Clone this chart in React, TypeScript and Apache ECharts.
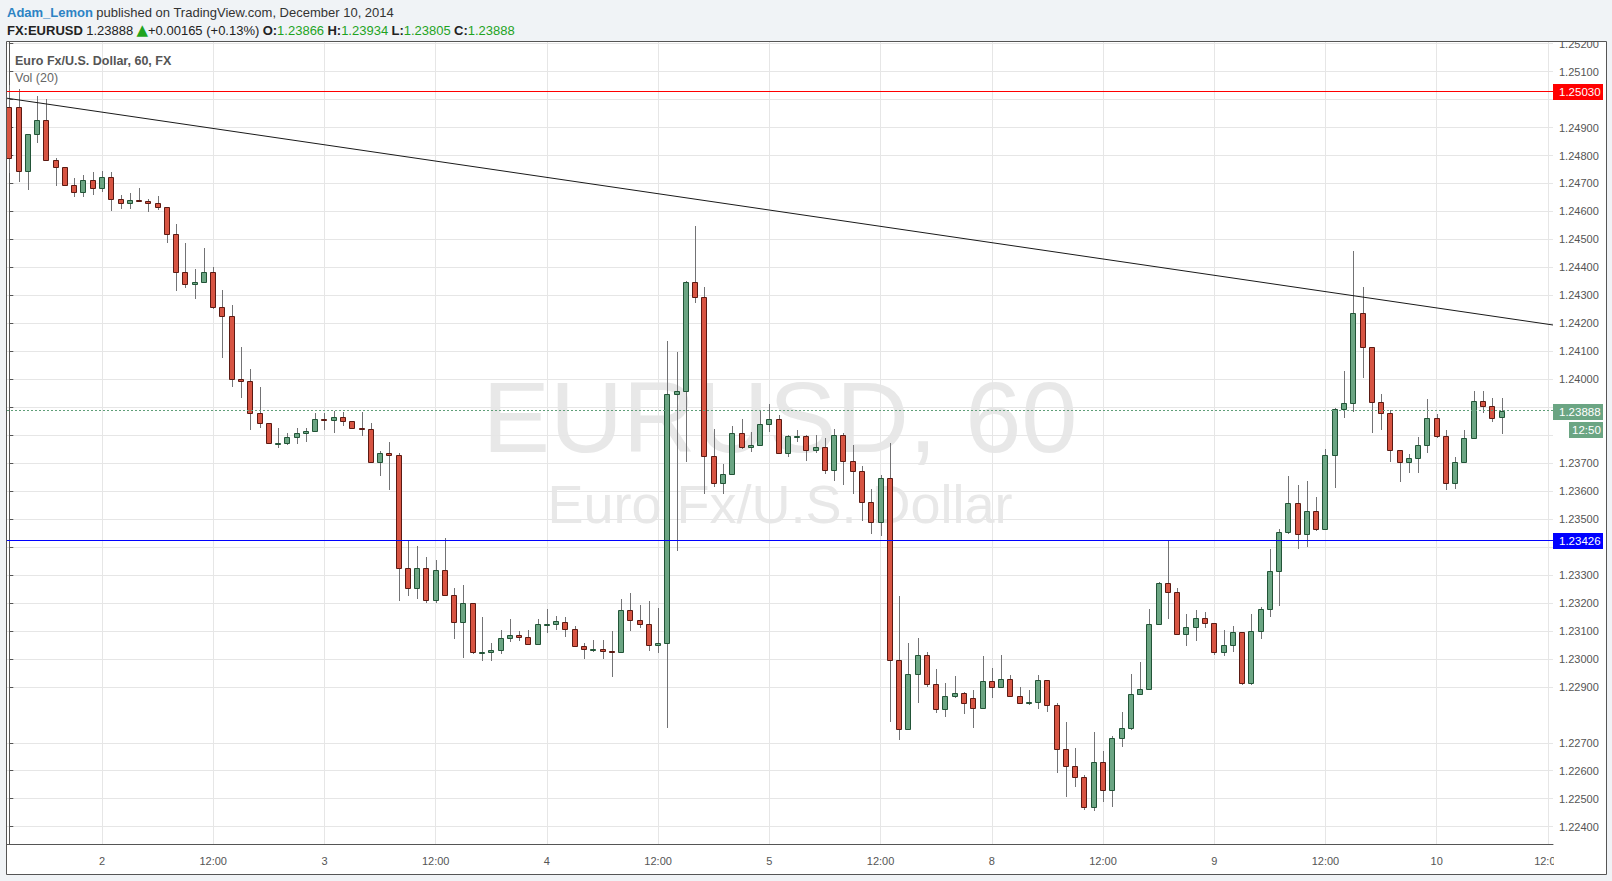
import React, { useEffect, useRef } from 'react';
import * as echarts from 'echarts';

// ---- Data (EUR/USD, 60 min bars, Dec 1 14:00 -> Dec 10 07:00, 2014) ----
const opens = [
  1.24973, 1.24973, 1.24743, 1.24876, 1.24926, 1.24784, 1.24758, 1.24696, 1.24669, 1.24712,
  1.24683, 1.24722, 1.24644, 1.24632, 1.24640, 1.24636, 1.24629, 1.24615, 1.24518, 1.24385,
  1.24340, 1.24347, 1.24383, 1.24257, 1.24225, 1.24000, 1.23995, 1.23881, 1.23843, 1.23771,
  1.23771, 1.23793, 1.23807, 1.23815, 1.23857, 1.23853, 1.23864, 1.23849, 1.23827, 1.23821,
  1.23705, 1.23735, 1.23728, 1.23324, 1.23252, 1.23324, 1.23209, 1.23317, 1.23227, 1.23133,
  1.23199, 1.23024, 1.23026, 1.23031, 1.23074, 1.23084, 1.23079, 1.23052, 1.23124, 1.23126,
  1.23133, 1.23106, 1.23046, 1.23034, 1.23037, 1.23027, 1.23025, 1.23174, 1.23138, 1.23126,
  1.23049, 1.23056, 1.23946, 1.23957, 1.24347, 1.24293, 1.23725, 1.23628, 1.23660, 1.23807,
  1.23757, 1.23764, 1.23839, 1.23857, 1.23735, 1.23796, 1.23798, 1.23746, 1.23757, 1.23674,
  1.23800, 1.23707, 1.23671, 1.23560, 1.23488, 1.23646, 1.22995, 1.22748, 1.22945, 1.23013,
  1.22909, 1.22820, 1.22866, 1.22877, 1.22859, 1.22823, 1.22920, 1.22898, 1.22927, 1.22866,
  1.22841, 1.22845, 1.22923, 1.22834, 1.22677, 1.22616, 1.22576, 1.22469, 1.22630, 1.22530,
  1.22716, 1.22752, 1.22873, 1.22891, 1.23124, 1.23270, 1.23238, 1.23088, 1.23113, 1.23145,
  1.23127, 1.23023, 1.23049, 1.23095, 1.22912, 1.23099, 1.23177, 1.23313, 1.23453, 1.23556,
  1.23446, 1.23528, 1.23463, 1.23728, 1.23893, 1.23914, 1.24236, 1.24115, 1.23918, 1.23878,
  1.23746, 1.23703, 1.23717, 1.23764, 1.23860, 1.23798, 1.23628, 1.23703, 1.23789, 1.23921,
  1.23903, 1.23866,
];
const highs = [
  1.25052, 1.25037, 1.24876, 1.25013, 1.25001, 1.24790, 1.24758, 1.24719, 1.24731, 1.24740,
  1.24743, 1.24740, 1.24659, 1.24665, 1.24683, 1.24644, 1.24656, 1.24615, 1.24555, 1.24486,
  1.24393, 1.24468, 1.24403, 1.24319, 1.24266, 1.24117, 1.24036, 1.23974, 1.23843, 1.23827,
  1.23807, 1.23825, 1.23825, 1.23878, 1.23881, 1.23888, 1.23884, 1.23850, 1.23884, 1.23843,
  1.23743, 1.23775, 1.23735, 1.23425, 1.23404, 1.23364, 1.23354, 1.23432, 1.23252, 1.23264,
  1.23199, 1.23149, 1.23056, 1.23103, 1.23143, 1.23100, 1.23103, 1.23143, 1.23177, 1.23153,
  1.23149, 1.23118, 1.23056, 1.23067, 1.23067, 1.23100, 1.23214, 1.23235, 1.23193, 1.23208,
  1.23183, 1.24137, 1.24098, 1.24352, 1.24548, 1.24329, 1.23822, 1.23697, 1.23833, 1.23858,
  1.23811, 1.23890, 1.23912, 1.23872, 1.23801, 1.23819, 1.23801, 1.23801, 1.23789, 1.23821,
  1.23807, 1.23764, 1.23690, 1.23608, 1.23658, 1.23773, 1.23225, 1.23057, 1.23076, 1.23026,
  1.22965, 1.22915, 1.22939, 1.22881, 1.22889, 1.23010, 1.22967, 1.23014, 1.22942, 1.22898,
  1.22889, 1.22942, 1.22925, 1.22841, 1.22774, 1.22681, 1.22584, 1.22740, 1.22672, 1.22724,
  1.22811, 1.22946, 1.22989, 1.23178, 1.23276, 1.23425, 1.23252, 1.23160, 1.23175, 1.23168,
  1.23130, 1.23103, 1.23118, 1.23095, 1.23160, 1.23187, 1.23393, 1.23465, 1.23654, 1.23622,
  1.23637, 1.23580, 1.23751, 1.23898, 1.24030, 1.24459, 1.24330, 1.24115, 1.23947, 1.23890,
  1.23746, 1.23733, 1.23792, 1.23928, 1.23876, 1.23819, 1.23722, 1.23819, 1.23958, 1.23958,
  1.23932, 1.23934,
];
const lows = [
  1.24737, 1.24707, 1.24675, 1.24844, 1.24784, 1.24691, 1.24694, 1.24653, 1.24653, 1.24660,
  1.24671, 1.24603, 1.24608, 1.24610, 1.24634, 1.24599, 1.24605, 1.24486, 1.24317, 1.24325,
  1.24286, 1.24347, 1.24251, 1.24077, 1.23974, 1.23934, 1.23819, 1.23827, 1.23771, 1.23753,
  1.23765, 1.23767, 1.23777, 1.23813, 1.23819, 1.23809, 1.23833, 1.23825, 1.23797, 1.23699,
  1.23655, 1.23604, 1.23208, 1.23226, 1.23213, 1.23199, 1.23199, 1.23227, 1.23072, 1.23004,
  1.23016, 1.22993, 1.22993, 1.23016, 1.23059, 1.23065, 1.23052, 1.23052, 1.23094, 1.23103,
  1.23079, 1.23041, 1.22998, 1.23026, 1.23001, 1.22936, 1.23025, 1.23101, 1.23112, 1.23029,
  1.23020, 1.22752, 1.23387, 1.23705, 1.24274, 1.23591, 1.23614, 1.23589, 1.23660, 1.23750,
  1.23741, 1.23764, 1.23812, 1.23735, 1.23721, 1.23777, 1.23709, 1.23737, 1.23662, 1.23637,
  1.23622, 1.23591, 1.23494, 1.23447, 1.23441, 1.22775, 1.22710, 1.22748, 1.22841, 1.22900,
  1.22808, 1.22793, 1.22859, 1.22803, 1.22754, 1.22823, 1.22861, 1.22898, 1.22866, 1.22841,
  1.22834, 1.22821, 1.22811, 1.22593, 1.22507, 1.22541, 1.22459, 1.22455, 1.22489, 1.22471,
  1.22686, 1.22746, 1.22873, 1.22891, 1.23124, 1.23143, 1.23088, 1.23047, 1.23065, 1.23112,
  1.23014, 1.23010, 1.23023, 1.22905, 1.22905, 1.23070, 1.23151, 1.23190, 1.23446, 1.23392,
  1.23400, 1.23457, 1.23463, 1.23610, 1.23863, 1.23882, 1.24003, 1.23807, 1.23819, 1.23705,
  1.23634, 1.23666, 1.23666, 1.23737, 1.23791, 1.23604, 1.23609, 1.23703, 1.23789, 1.23881,
  1.23848, 1.23805,
];
const closes = [
  1.24790, 1.24743, 1.24876, 1.24926, 1.24784, 1.24758, 1.24696, 1.24669, 1.24712, 1.24683,
  1.24722, 1.24644, 1.24632, 1.24640, 1.24636, 1.24629, 1.24615, 1.24518, 1.24385, 1.24340,
  1.24347, 1.24383, 1.24257, 1.24225, 1.24000, 1.23995, 1.23881, 1.23843, 1.23771, 1.23773,
  1.23793, 1.23807, 1.23815, 1.23857, 1.23853, 1.23864, 1.23849, 1.23827, 1.23821, 1.23705,
  1.23735, 1.23728, 1.23324, 1.23252, 1.23324, 1.23209, 1.23317, 1.23227, 1.23133, 1.23199,
  1.23024, 1.23026, 1.23031, 1.23074, 1.23084, 1.23079, 1.23052, 1.23124, 1.23126, 1.23134,
  1.23106, 1.23046, 1.23034, 1.23037, 1.23027, 1.23025, 1.23174, 1.23138, 1.23126, 1.23049,
  1.23056, 1.23946, 1.23957, 1.24347, 1.24293, 1.23725, 1.23628, 1.23660, 1.23807, 1.23757,
  1.23764, 1.23839, 1.23857, 1.23735, 1.23796, 1.23798, 1.23746, 1.23757, 1.23674, 1.23800,
  1.23707, 1.23671, 1.23560, 1.23488, 1.23646, 1.22995, 1.22748, 1.22945, 1.23013, 1.22909,
  1.22820, 1.22866, 1.22877, 1.22841, 1.22823, 1.22920, 1.22898, 1.22927, 1.22866, 1.22841,
  1.22845, 1.22923, 1.22834, 1.22677, 1.22616, 1.22576, 1.22469, 1.22630, 1.22530, 1.22716,
  1.22752, 1.22873, 1.22891, 1.23124, 1.23270, 1.23238, 1.23088, 1.23113, 1.23145, 1.23127,
  1.23023, 1.23049, 1.23095, 1.22912, 1.23099, 1.23177, 1.23313, 1.23453, 1.23556, 1.23446,
  1.23528, 1.23463, 1.23728, 1.23893, 1.23914, 1.24236, 1.24115, 1.23918, 1.23878, 1.23746,
  1.23703, 1.23717, 1.23764, 1.23860, 1.23798, 1.23628, 1.23703, 1.23789, 1.23921, 1.23903,
  1.23860, 1.23888,
];

// x-axis: bar index of each time label
const timeTickIndex = [10, 22, 34, 46, 58, 70, 82, 94, 106, 118, 130, 142, 154, 166];
const timeTickLabels = ['2', '12:00', '3', '12:00', '4', '12:00', '5', '12:00', '8', '12:00', '9', '12:00', '10', '12:00'];
// price scale ticks / grid lines (TradingView skipped 1.22800 here)
const priceTicks = [
  1.224, 1.225, 1.226, 1.227, 1.229, 1.23, 1.231, 1.232, 1.233, 1.234, 1.235, 1.236, 1.237,
  1.238, 1.239, 1.24, 1.241, 1.242, 1.243, 1.244, 1.245, 1.246, 1.247, 1.248, 1.249, 1.25,
  1.251, 1.252,
];
// labels that sit under the price tags are hidden by them in the reference
const priceLabels = [
  1.224, 1.225, 1.226, 1.227, 1.229, 1.23, 1.231, 1.232, 1.233, 1.235, 1.236, 1.237,
  1.24, 1.241, 1.242, 1.243, 1.244, 1.245, 1.246, 1.247, 1.248, 1.249,
  1.251, 1.252,
];
const xRange = [-0.25, 166.55];
const priceRange = [1.22338, 1.25206];

// drawings
const resistanceLevel = 1.2503;
const supportLevel = 1.23426;
const lastPrice = 1.23888;
const trendIdx = [-0.25, 166.55];
const trendPrice = [1.25005, 1.24194];

const header = {
  user: 'Adam_Lemon',
  published: 'published on TradingView.com, December 10, 2014',
  symbol: 'FX:EURUSD',
  last: '1.23888',
  change: '+0.00165 (+0.13%)',
  o: '1.23866',
  h: '1.23934',
  l: '1.23805',
  c: '1.23888',
  timeLeft: '12:50',
};

const UP_FILL = '#6ba583';
const UP_BORDER = '#225437';
const DOWN_FILL = '#d75442';
const DOWN_BORDER = '#5b1a13';
const WICK = '#737375';
const GRID = '#e6e6e6';
const AXIS = '#555555';
const PAGE_BG = '#f0f3f6';
const FONT = 'Arial, "Liberation Sans", sans-serif';

export default function App() {
  const ref = useRef<HTMLDivElement>(null);

  useEffect(() => {
    if (!ref.current) return;
    const chart = echarts.init(ref.current, undefined, { renderer: 'svg' });

    const candleData = opens.map((o, i) => [i, o, closes[i], lows[i], highs[i]]);

    chart.setOption({
      animation: false,
      backgroundColor: PAGE_BG,
      grid: { left: 7, right: 59, top: 42, bottom: 37, containLabel: false },
      xAxis: {
        type: 'value',
        min: xRange[0],
        max: xRange[1],
        position: 'bottom',
        axisLine: { show: true, lineStyle: { color: AXIS, width: 1 } },
        axisTick: { show: false, customValues: timeTickIndex },
        axisLabel: {
          customValues: timeTickIndex,
          color: AXIS,
          fontSize: 11,
          fontFamily: FONT,
          margin: 11,
          formatter: (v: number) => {
            const k = timeTickIndex.indexOf(Math.round(v));
            return k >= 0 ? timeTickLabels[k] : '';
          },
        },
        splitLine: { show: true, lineStyle: { color: GRID, width: 1 } },
      },
      yAxis: {
        type: 'value',
        position: 'right',
        min: priceRange[0],
        max: priceRange[1],
        scale: true,
        axisLine: { show: true, lineStyle: { color: AXIS, width: 1 } },
        axisTick: { show: true, length: 4, lineStyle: { color: AXIS }, customValues: priceTicks },
        axisLabel: {
          customValues: priceLabels,
          color: AXIS,
          fontSize: 11,
          fontFamily: FONT,
          margin: 6,
          formatter: (v: number) => v.toFixed(5),
        },
        splitLine: { show: true, lineStyle: { color: GRID, width: 1 } },
      },
      series: [
        {
          type: 'custom',
          name: 'EURUSD',
          clip: true,
          z: 2,
          data: candleData,
          encode: { x: 0, y: [1, 2, 3, 4] },
          renderItem: (_params: any, api: any) => {
            const i = api.value(0);
            const o = api.value(1);
            const c = api.value(2);
            const l = api.value(3);
            const h = api.value(4);
            const pO = api.coord([i, o]);
            const pC = api.coord([i, c]);
            const pH = api.coord([i, h]);
            const pL = api.coord([i, l]);
            const xc = Math.round(pO[0]);
            const up = c >= o;
            const top = Math.round(Math.min(pO[1], pC[1]));
            let bot = Math.round(Math.max(pO[1], pC[1]));
            if (bot - top < 1) bot = top + 1;
            return {
              type: 'group',
              children: [
                {
                  type: 'line',
                  shape: { x1: xc + 0.5, y1: Math.round(pH[1]), x2: xc + 0.5, y2: Math.round(pL[1]) },
                  style: { stroke: WICK, lineWidth: 1 },
                },
                {
                  type: 'rect',
                  shape: { x: xc - 2.5, y: top + 0.5, width: 5, height: bot - top },
                  style: { fill: up ? UP_FILL : DOWN_FILL, stroke: up ? UP_BORDER : DOWN_BORDER, lineWidth: 1 },
                },
              ],
            };
          },
        },
        {
          type: 'line',
          name: 'trend',
          z: 5,
          symbol: 'none',
          silent: true,
          data: [
            [trendIdx[0], trendPrice[0]],
            [trendIdx[1], trendPrice[1]],
          ],
          lineStyle: { color: '#1a1a1a', width: 1 },
          markLine: {
            silent: true,
            precision: 6,
            symbol: ['none', 'none'],
            label: { show: false },
            emphasis: { disabled: true },
            data: [
              { yAxis: resistanceLevel, lineStyle: { color: '#ff0000', width: 1, type: 'solid' } },
              { yAxis: supportLevel, lineStyle: { color: '#0000ff', width: 1, type: 'solid' } },
              { yAxis: lastPrice, lineStyle: { color: '#5f9e78', width: 1, type: [2, 2] } },
            ],
          },
        },
      ],
    });

    const yOf = (p: number) => (chart.convertToPixel({ gridIndex: 0 }, [0, p]) as number[])[1];
    const grid = { l: 7, r: 1553, t: 42, b: 844 };
    const plotCx = (grid.l + grid.r) / 2;

    const tag = (p: number, text: string, color: string) => {
      const y = Math.round(yOf(p));
      return [
        { type: 'rect', z: 120, shape: { x: grid.r, y: y - 7, width: 50, height: 16 }, style: { fill: color } },
        {
          type: 'text', z: 121, x: 1559, y: y + 1,
          style: { text, fill: '#ffffff', font: `11.5px ${FONT}`, verticalAlign: 'middle' },
        },
      ];
    };

    const yLast = Math.round(yOf(lastPrice));

    const elements: any[] = [
      // white chart panel with frame
      {
        type: 'rect', z: -20, silent: true,
        shape: { x: 6.5, y: 41.5, width: 1600, height: 833 },
        style: { fill: '#ffffff', stroke: AXIS, lineWidth: 1 },
      },
      // watermark
      {
        type: 'text', z: -10, silent: true, x: plotCx, y: 417,
        style: { text: 'EURUSD, 60', fill: '#e8e8e8', font: `101px ${FONT}`, align: 'center', verticalAlign: 'middle' },
      },
      {
        type: 'text', z: -10, silent: true, x: plotCx, y: 504,
        style: { text: 'Euro Fx/U.S. Dollar', fill: '#e8e8e8', font: `54px ${FONT}`, align: 'center', verticalAlign: 'middle' },
      },
      // hide parts of labels outside the panel (clip like the reference)
      { type: 'rect', z: 110, silent: true, shape: { x: 1554, y: 0, width: 58, height: 41 }, style: { fill: PAGE_BG } },
      { type: 'rect', z: 110, silent: true, shape: { x: 1554, y: 845, width: 52, height: 29 }, style: { fill: '#ffffff' } },
      // header
      {
        type: 'text', z: 50, x: 7, y: 12,
        style: {
          text: `{u|${header.user}} {t|${header.published}}`,
          verticalAlign: 'middle',
          rich: {
            u: { fill: '#2d83c4', font: `bold 13px ${FONT}` },
            t: { fill: '#333333', font: `13px ${FONT}` },
          },
        },
      },
      {
        type: 'text', z: 50, x: 7, y: 30,
        style: {
          text:
            `{b|${header.symbol}} {t|${header.last}} {a|▲}{t|${header.change}} ` +
            `{b|O:}{g|${header.o}} {b|H:}{g|${header.h}} {b|L:}{g|${header.l}} {b|C:}{g|${header.c}}`,
          verticalAlign: 'middle',
          rich: {
            b: { fill: '#222222', font: `bold 13px ${FONT}` },
            t: { fill: '#222222', font: `13px ${FONT}` },
            g: { fill: '#1fa31f', font: `13px ${FONT}` },
            a: { fill: '#1fa31f', font: `15px "DejaVu Sans", ${FONT}` },
          },
        },
      },
      // pane legend
      {
        type: 'text', z: 50, x: 15, y: 61,
        style: { text: 'Euro Fx/U.S. Dollar, 60, FX', fill: '#555555', font: `bold 12.5px ${FONT}`, verticalAlign: 'middle' },
      },
      {
        type: 'text', z: 50, x: 15, y: 78,
        style: { text: 'Vol (20)', fill: '#666666', font: `12.5px ${FONT}`, verticalAlign: 'middle' },
      },
      ...tag(resistanceLevel, '1.25030', '#ff0000'),
      ...tag(supportLevel, '1.23426', '#0000ff'),
      ...tag(lastPrice, '1.23888', UP_FILL),
      { type: 'rect', z: 120, shape: { x: 1569, y: yLast + 11, width: 34, height: 16 }, style: { fill: UP_FILL } },
      {
        type: 'text', z: 121, x: 1572, y: yLast + 19,
        style: { text: header.timeLeft, fill: '#ffffff', font: `11.5px ${FONT}`, verticalAlign: 'middle' },
      },
    ];

    chart.setOption({ graphic: { elements } });

    return () => {
      chart.dispose();
    };
  }, []);

  return (
    <div
      ref={ref}
      style={{ position: 'fixed', left: 0, top: 0, width: 1612, height: 881 }}
    />
  );
}
